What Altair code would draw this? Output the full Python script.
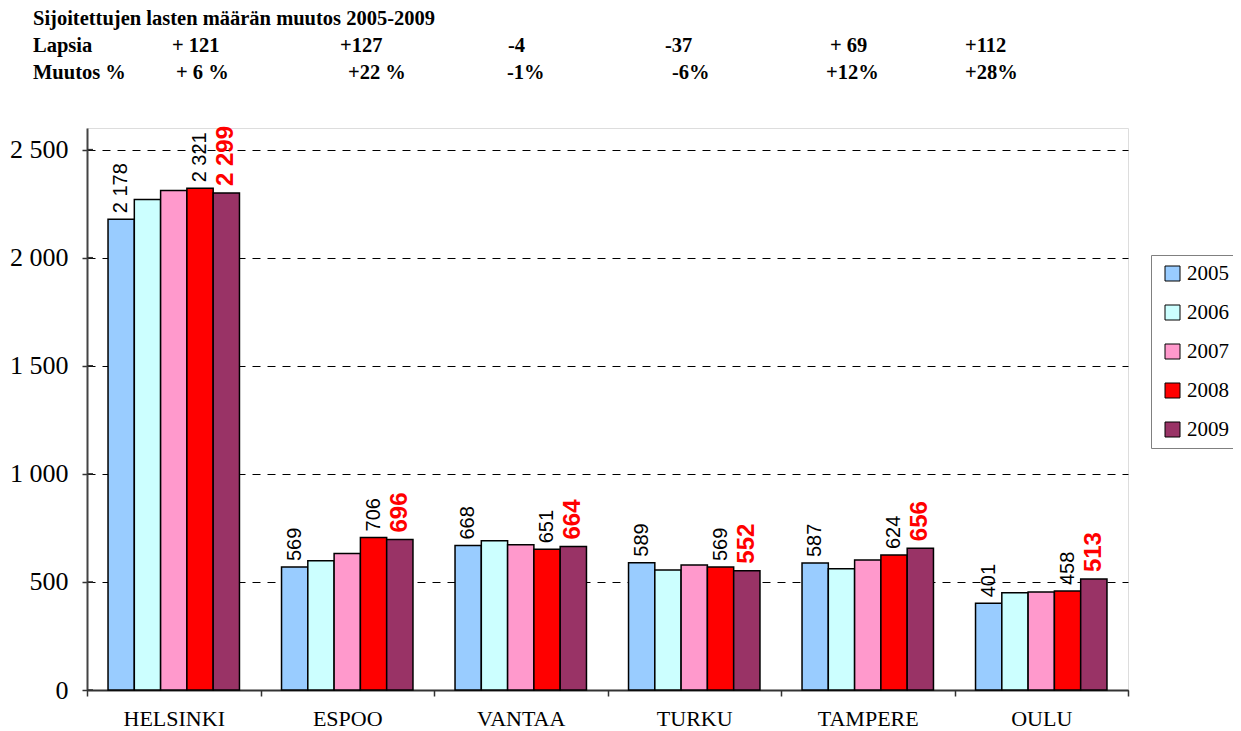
import altair as alt
import pandas as pd

cities = ["HELSINKI", "ESPOO", "VANTAA", "TURKU", "TAMPERE", "OULU"]
years = ["2005", "2006", "2007", "2008", "2009"]
v2005 = [2178, 569, 668, 589, 587, 401]
v2006 = [2269, 598, 690, 555, 561, 450]
v2007 = [2311, 632, 672, 578, 602, 453]
v2008 = [2321, 706, 651, 569, 624, 458]
v2009 = [2299, 696, 664, 552, 656, 513]
colors = ["#99CCFF", "#CCFFFF", "#FF99CC", "#FF0000", "#993366"]
y_ticks = [0, 500, 1000, 1500, 2000, 2500]

header_title = "Sijoitettujen lasten määrän muutos 2005-2009"
row1_label = "Lapsia"
row1_values = ["+ 121", "+127", "-4", "-37", "+ 69", "+112"]
row2_label = "Muutos %"
row2_values = ["+ 6 %", "+22 %", "-1%", "-6%", "+12%", "+28%"]

# ---- layout (pixels) ----
W, H = 1041, 562
PAD_L, PAD_T = 79, 120
PAD_R = 1241 - 16 - PAD_L - W
PAD_B = 723 - PAD_T - H
row1_x = [85, 253, 421, 578, 743, 878]
row2_x = [89, 261, 420, 585, 739, 878]
label_x = -54
title_y, row1_y, row2_y = -103, -76, -49

series = {"2005": v2005, "2006": v2006, "2007": v2007, "2008": v2008, "2009": v2009}
rows = []
for y in years:
    for c, v in zip(cities, series[y]):
        rows.append({"city": c, "year": y, "value": v,
                     "label": f"{v:,}".replace(",", " ")})
df = pd.DataFrame(rows)

hdr = [{"t": header_title, "px": label_x, "py": title_y},
       {"t": row1_label, "px": label_x, "py": row1_y},
       {"t": row2_label, "px": label_x, "py": row2_y}]
hdr += [{"t": t, "px": x, "py": row1_y} for t, x in zip(row1_values, row1_x)]
hdr += [{"t": t, "px": x, "py": row2_y} for t, x in zip(row2_values, row2_x)]
hdf = pd.DataFrame(hdr)

x_enc = alt.X("city:N", sort=cities, title=None,
              scale=alt.Scale(paddingInner=0, paddingOuter=0),
              axis=alt.Axis(labelAngle=0, tickBand="extent", tickSize=6,
                            labelFont="Liberation Serif", labelFontSize=22,
                            labelColor="black", labelPadding=12,
                            domainColor="#333333", domainWidth=2,
                            tickColor="#333333", tickWidth=1.5, grid=False))
xo_enc = alt.XOffset("year:N", sort=years,
                     scale=alt.Scale(paddingInner=0, paddingOuter=0.8))
y_scale = alt.Scale(domain=[0, 2600], nice=False)

base = alt.Chart(df)

bars = base.mark_bar(stroke="black", strokeWidth=1.5).encode(
    x=x_enc,
    xOffset=xo_enc,
    y=alt.Y("value:Q", scale=y_scale, title=None,
            axis=alt.Axis(values=y_ticks,
                          labelExpr="replace(format(datum.value, ','), ',', ' ')",
                          labelFont="Liberation Serif", labelFontSize=26,
                          labelColor="black", labelPadding=14, tickSize=5,
                          tickColor="#333333", tickWidth=1.5,
                          domainColor="#444444", domainWidth=2,
                          grid=True, gridColor="black", gridDash=[8, 7],
                          gridWidth=1)),
    color=alt.Color("year:N", sort=years,
                    scale=alt.Scale(domain=years, range=colors),
                    legend=alt.Legend(title=None, orient="none",
                                      legendX=1064, legendY=127,
                                      symbolType="square", symbolSize=225,
                                      symbolStrokeColor="black",
                                      symbolStrokeWidth=1,
                                      symbolOpacity=1, symbolOffset=3,
                                      labelFont="Liberation Serif",
                                      labelFontSize=21, labelColor="black",
                                      labelOffset=4, rowPadding=17,
                                      padding=8, strokeColor="#808080",
                                      fillColor="white")),
)

black_lbl = base.transform_filter(
    alt.FieldOneOfPredicate(field="year", oneOf=["2005", "2008"])
).mark_text(angle=270, align="left", baseline="middle", dx=6,
            font="Liberation Sans", fontSize=20, color="black").encode(
    x=alt.X("city:N", sort=cities), xOffset=alt.XOffset("year:N", sort=years),
    y=alt.Y("value:Q", scale=y_scale), text="label:N")

red_lbl = base.transform_filter(
    alt.FieldEqualPredicate(field="year", equal="2009")
).mark_text(angle=270, align="left", baseline="middle", dx=7,
            font="Liberation Sans", fontSize=24, fontWeight="bold",
            color="#FF0000").encode(
    x=alt.X("city:N", sort=cities), xOffset=alt.XOffset("year:N", sort=years),
    y=alt.Y("value:Q", scale=y_scale), text="label:N")

inner_ticks = alt.Chart(pd.DataFrame({"v": y_ticks})).mark_rule(
    color="#333333", strokeWidth=1.5).encode(
    y=alt.Y("v:Q", scale=y_scale), x=alt.value(0), x2=alt.value(6))

header = alt.Chart(hdf).mark_text(
    align="left", baseline="alphabetic", font="Liberation Serif",
    fontSize=20.5, fontWeight="bold", color="black").encode(
    x=alt.X("px:Q", scale=None, axis=None),
    y=alt.Y("py:Q", scale=None, axis=None),
    text="t:N")

chart = alt.layer(bars, inner_ticks, black_lbl, red_lbl, header).properties(
    width=W, height=H,
    autosize=alt.AutoSizeParams(type="none"),
    padding={"left": PAD_L, "top": PAD_T, "right": PAD_R, "bottom": PAD_B},
).configure_view(stroke="#808080", strokeWidth=2).configure(
    background="white")

chart.save("out.html", embed_options={"renderer": "svg", "actions": False})
